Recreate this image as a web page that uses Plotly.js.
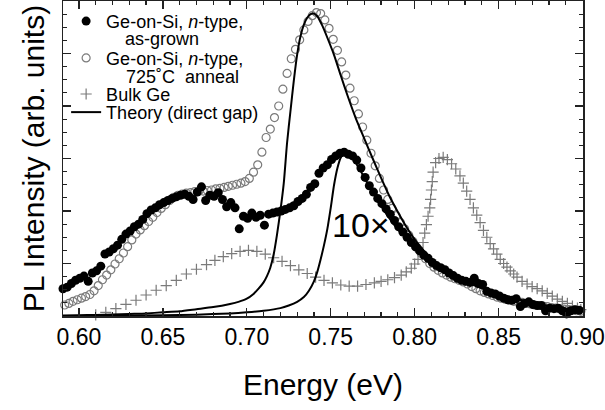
<!DOCTYPE html>
<html>
<head>
<meta charset="utf-8">
<script src="https://cdn.plot.ly/plotly-3.0.1.min.js"></script>
<style>html,body{margin:0;padding:0;background:#fff;}#chart{width:605px;height:410px;}</style>
</head>
<body>
<div id="chart"></div>
<script>
// As-grown Ge-on-Si (filled dots)
const asGrownE = [0.5905,0.593,0.5955,0.598,0.6005,0.603,0.6055,0.608,0.6105,0.613,0.6155,0.618,0.6205,0.623,0.6255,0.628,0.6305,0.633,0.6355,0.638,0.6405,0.643,0.6455,0.648,0.6505,0.653,0.6555,0.658,0.6605,0.663,0.6655,0.668,0.6705,0.673,0.6755,0.678,0.6805,0.683,0.6855,0.688,0.6905,0.693,0.6955,0.698,0.7005,0.703,0.7055,0.708,0.7105,0.713,0.7155,0.718,0.7205,0.723,0.7255,0.728,0.7305,0.733,0.7355,0.738,0.7405,0.743,0.7455,0.748,0.7505,0.753,0.7555,0.758,0.7605,0.763,0.7655,0.768,0.7705,0.773,0.7755,0.778,0.7805,0.783,0.7855,0.788,0.7905,0.793,0.7955,0.798,0.8005,0.803,0.8055,0.808,0.8105,0.813,0.8155,0.818,0.8205,0.823,0.8255,0.828,0.8305,0.833,0.8355,0.838,0.8405,0.843,0.8455,0.848,0.8505,0.853,0.8555,0.858,0.8605,0.863,0.8655,0.868,0.8705,0.873,0.8755,0.878,0.8805,0.883,0.8855,0.888,0.8905,0.893,0.8955,0.898];
const asGrownI = [0.52,0.55,0.62,0.68,0.72,0.76,0.66,0.82,0.86,0.95,1.18,1.22,1.28,1.35,1.46,1.56,1.62,1.70,1.75,1.84,1.95,2.02,2.06,2.12,2.16,2.20,2.24,2.27,2.30,2.32,2.28,2.22,2.36,2.46,2.20,2.30,2.28,2.35,2.22,2.08,2.16,2.06,1.66,1.90,1.86,1.96,1.88,1.92,1.73,1.94,1.96,1.98,2.00,2.03,2.06,2.10,2.18,2.24,2.32,2.45,2.52,2.72,2.82,2.88,2.98,3.05,3.10,3.12,3.08,3.05,2.97,2.82,2.64,2.48,2.36,2.24,2.14,2.04,1.94,1.82,1.70,1.60,1.50,1.40,1.32,1.24,1.16,1.10,1.02,0.96,0.92,0.88,0.82,0.77,0.72,0.68,0.66,0.64,0.72,0.62,0.60,0.47,0.44,0.42,0.38,0.34,0.31,0.30,0.33,0.18,0.24,0.27,0.22,0.20,0.20,0.10,0.15,0.14,0.15,0.10,0.04,0.10,0.12,0.11];

// 725 C annealed Ge-on-Si (open circles)
const annealE = [0.5915,0.594,0.5965,0.599,0.6015,0.604,0.6065,0.609,0.6115,0.614,0.6165,0.619,0.6215,0.624,0.6265,0.629,0.6315,0.634,0.6365,0.639,0.6415,0.644,0.6465,0.649,0.6515,0.654,0.6565,0.659,0.6615,0.664,0.6665,0.669,0.6715,0.674,0.6765,0.679,0.6815,0.684,0.6865,0.689,0.6915,0.694,0.6965,0.699,0.7015,0.704,0.7065,0.709,0.7115,0.714,0.7165,0.719,0.7215,0.724,0.7265,0.729,0.7315,0.734,0.7365,0.739,0.7415,0.744,0.7465,0.749,0.7515,0.754,0.7565,0.759,0.7615,0.764,0.7665,0.769,0.7715,0.774,0.7765,0.779,0.7815,0.784,0.7865,0.789,0.7915,0.794,0.7965,0.799,0.8015,0.804,0.8065,0.809,0.8115,0.814,0.8165,0.819,0.8215,0.824,0.8265,0.829,0.8315,0.834,0.8365,0.839,0.8415,0.844,0.8465,0.849,0.8515,0.854,0.8565,0.859,0.8615,0.864,0.8665,0.869,0.8715,0.874,0.8765,0.879,0.8815,0.884,0.8865,0.889,0.8915,0.894,0.8965,0.899];
const annealI = [0.21,0.24,0.28,0.31,0.34,0.37,0.41,0.48,0.58,0.69,0.78,0.88,0.99,1.09,1.20,1.32,1.45,1.56,1.64,1.72,1.80,1.88,1.97,2.05,2.12,2.20,2.26,2.30,2.32,2.34,2.35,2.37,2.38,2.38,2.39,2.40,2.42,2.43,2.45,2.47,2.49,2.51,2.53,2.56,2.62,2.74,2.88,3.12,3.40,3.56,3.78,4.00,4.32,4.62,4.90,5.08,5.26,5.45,5.61,5.72,5.78,5.76,5.64,5.48,5.27,5.06,4.84,4.59,4.34,4.10,3.85,3.60,3.35,3.10,2.86,2.62,2.40,2.22,2.05,1.91,1.78,1.66,1.54,1.42,1.30,1.19,1.09,1.00,0.93,0.87,0.82,0.78,0.74,0.71,0.68,0.65,0.61,0.56,0.52,0.48,0.45,0.42,0.39,0.36,0.34,0.32,0.30,0.28,0.27,0.26,0.24,0.23,0.21,0.20,0.19,0.18,0.16,0.15,0.14,0.13,0.12,0.11,0.10,0.09];

// Bulk Ge (crosses)
const bulkE = [0.610,0.616,0.622,0.628,0.634,0.640,0.646,0.652,0.658,0.664,0.670,0.676,0.681,0.686,0.691,0.696,0.701,0.706,0.711,0.716,0.721,0.726,0.731,0.736,0.741,0.746,0.751,0.756,0.761,0.766,0.771,0.776,0.780,0.784,0.788,0.792,0.795,0.798,0.800,0.802,0.8035,0.805,0.806,0.807,0.808,0.809,0.8095,0.810,0.8105,0.811,0.8125,0.8145,0.8170,0.8195,0.822,0.8245,0.827,0.829,0.831,0.833,0.835,0.837,0.839,0.841,0.843,0.845,0.847,0.849,0.851,0.853,0.855,0.857,0.859,0.861,0.864,0.867,0.870,0.873,0.876,0.879,0.882,0.885,0.888,0.891,0.894,0.897,0.899];
const bulkI = [0.02,0.07,0.14,0.22,0.30,0.40,0.49,0.58,0.68,0.80,0.89,0.98,1.06,1.13,1.19,1.23,1.25,1.23,1.18,1.11,1.04,0.96,0.88,0.81,0.74,0.68,0.63,0.59,0.57,0.57,0.60,0.63,0.66,0.69,0.73,0.78,0.84,0.91,0.99,1.08,1.22,1.40,1.58,1.74,1.90,2.06,2.22,2.40,2.56,2.74,2.92,3.00,3.02,2.98,2.90,2.80,2.67,2.53,2.38,2.22,2.06,1.92,1.78,1.63,1.50,1.38,1.28,1.18,1.08,1.00,0.93,0.86,0.80,0.74,0.66,0.61,0.56,0.52,0.48,0.43,0.38,0.32,0.28,0.24,0.19,0.15,0.12];

// Theory (direct gap) for the annealed sample
const theoryAE = [0.5905,0.600,0.610,0.620,0.630,0.640,0.650,0.660,0.670,0.680,0.690,0.695,0.700,0.704,0.707,0.710,0.712,0.714,0.716,0.718,0.720,0.722,0.724,0.726,0.728,0.730,0.732,0.734,0.736,0.738,0.740,0.742,0.745,0.748,0.752,0.756,0.760,0.765,0.770,0.775,0.780,0.785,0.790,0.795,0.800,0.805,0.810,0.815,0.820,0.825,0.830,0.840,0.850,0.860,0.870,0.880,0.890,0.900];
const theoryAI = [0.01,0.015,0.02,0.03,0.04,0.05,0.07,0.09,0.13,0.17,0.23,0.27,0.33,0.42,0.52,0.64,0.76,0.92,1.17,1.55,2.0,2.52,3.3,3.9,4.48,4.98,5.33,5.55,5.68,5.75,5.76,5.71,5.53,5.30,4.97,4.58,4.20,3.76,3.38,3.00,2.63,2.28,1.98,1.70,1.46,1.26,1.09,0.96,0.85,0.75,0.67,0.53,0.42,0.33,0.25,0.19,0.14,0.10];

// Theory (direct gap) for the as-grown sample, shown 10x
const theoryBE = [0.5905,0.620,0.650,0.670,0.690,0.700,0.710,0.720,0.725,0.730,0.734,0.737,0.740,0.742,0.744,0.746,0.748,0.750,0.752,0.754,0.756,0.758,0.760,0.763,0.766,0.770,0.775,0.780,0.785,0.790,0.795,0.800,0.805,0.810,0.815,0.820,0.825,0.830,0.840,0.850,0.860,0.870,0.880,0.890,0.900];
const theoryBI = [0.0,0.005,0.015,0.025,0.05,0.07,0.10,0.15,0.20,0.27,0.36,0.48,0.66,0.84,1.08,1.35,1.66,2.06,2.50,2.82,3.02,3.11,3.10,3.01,2.86,2.64,2.36,2.10,1.86,1.65,1.48,1.33,1.20,1.08,0.96,0.85,0.75,0.67,0.53,0.42,0.33,0.25,0.19,0.14,0.10];

const xTicks = [0.60,0.65,0.70,0.75,0.80,0.85,0.90];
const xTickLabels = ['0.60','0.65','0.70','0.75','0.80','0.85','0.90'];

const FONT = 'Liberation Sans, Arial, Helvetica, sans-serif';
const GRAY = '#7a7a7a';

const traces = [
  {x: bulkE, y: bulkI, type: 'scatter', mode: 'markers', name: 'Bulk Ge', legend: 'legend3',
   marker: {symbol: 'cross-thin-open', size: 8, color: GRAY, line: {color: GRAY, width: 1.2}}, cliponaxis: false},
  {x: annealE, y: annealI, type: 'scatter', mode: 'markers', name: 'Ge-on-Si, <i>n</i>-type,', legend: 'legend2',
   marker: {symbol: 'circle-open', size: 8, color: GRAY, line: {color: GRAY, width: 1.2}}, cliponaxis: false},
  {x: asGrownE, y: asGrownI, type: 'scatter', mode: 'markers', name: 'Ge-on-Si, <i>n</i>-type,', legend: 'legend',
   marker: {symbol: 'circle', size: 9, color: '#000'}, cliponaxis: false},
  {x: theoryAE, y: theoryAI, type: 'scatter', mode: 'lines', name: 'Theory (direct gap)', legend: 'legend4',
   line: {color: '#000', width: 2, shape: 'spline', smoothing: 0.6}},
  {x: theoryBE, y: theoryBI, type: 'scatter', mode: 'lines', name: 'Theory (direct gap)', showlegend: false,
   line: {color: '#000', width: 2, shape: 'spline', smoothing: 0.6}}
];

function leg(y) {
  return {x: 0.006, y: y, xanchor: 'left', yanchor: 'top', bgcolor: 'rgba(0,0,0,0)', borderwidth: 0,
          font: {family: FONT, size: 18, color: '#000'}, tracegroupgap: 0};
}

const layout = {
  width: 605, height: 410,
  margin: {l: 63, r: 22, t: 1, b: 94},
  paper_bgcolor: '#fff', plot_bgcolor: '#fff',
  font: {family: FONT, color: '#000'},
  showlegend: true,
  legend: leg(0.994),
  legend2: leg(0.877),
  legend3: leg(0.7625),
  legend4: leg(0.705),
  xaxis: {
    range: [0.5905, 0.9003], tickvals: xTicks, ticktext: xTickLabels,
    ticks: 'inside', ticklen: 8, tickwidth: 1.3, tickcolor: '#222',
    minor: {dtick: 0.01, tick0: 0.6, ticks: 'inside', ticklen: 4, tickwidth: 1.2, tickcolor: '#222'},
    showline: true, linecolor: '#222', linewidth: 1.5, mirror: 'allticks',
    showgrid: false, zeroline: false,
    tickfont: {family: FONT, size: 23, color: '#000'},
    title: {text: 'Energy (eV)', font: {family: FONT, size: 30, color: '#000'}, standoff: 25}
  },
  yaxis: {
    range: [0, 6], dtick: 1, tick0: 0,
    ticks: 'inside', ticklen: 8, tickwidth: 1.3, tickcolor: '#222',
    minor: {dtick: 0.25, ticks: 'inside', ticklen: 4, tickwidth: 1.2, tickcolor: '#222'},
    showline: true, linecolor: '#222', linewidth: 1.5, mirror: 'allticks',
    showgrid: false, zeroline: false, showticklabels: false,
    title: {text: 'PL Intensity (arb. units)', font: {family: FONT, size: 30, color: '#000'}, standoff: 8}
  },
  annotations: [
    {xref: 'paper', yref: 'paper', x: 0.1154, y: 0.879, xanchor: 'left', yanchor: 'middle', showarrow: false,
     text: 'as-grown', font: {family: FONT, size: 18, color: '#000'}},
    {xref: 'paper', yref: 'paper', x: 0.1173, y: 0.759, xanchor: 'left', yanchor: 'middle', showarrow: false,
     text: '725˚C\u00a0\u00a0anneal', font: {family: FONT, size: 18, color: '#000'}},
    {xref: 'x', yref: 'y', x: 0.768, y: 1.73, xanchor: 'center', yanchor: 'middle', showarrow: false,
     text: '10×', font: {family: FONT, size: 34, color: '#000'}}
  ]
};

Plotly.newPlot('chart', traces, layout, {displayModeBar: false, staticPlot: true});
</script>
</body>
</html>
